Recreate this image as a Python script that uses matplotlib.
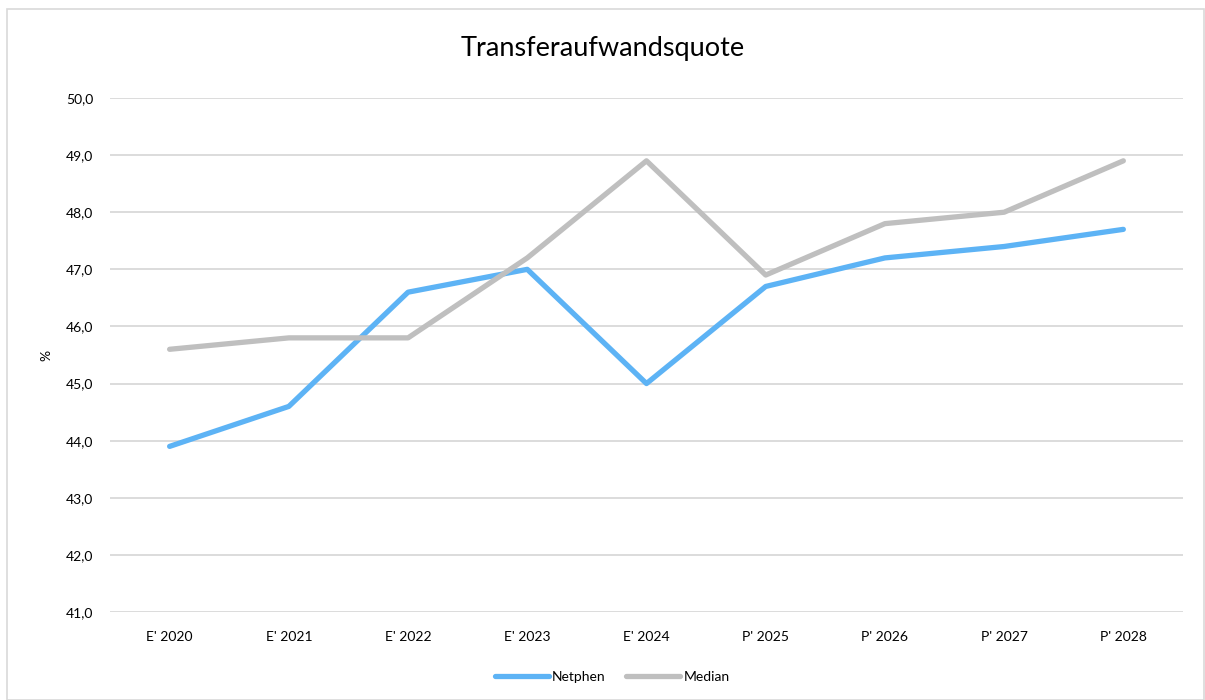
import matplotlib
matplotlib.use('Agg')
import matplotlib.pyplot as plt
from matplotlib.patches import Rectangle
from matplotlib.ticker import FuncFormatter

plt.rcParams['font.family'] = ['Lato', 'DejaVu Sans']

years = ["E' 2020", "E' 2021", "E' 2022", "E' 2023", "E' 2024",
         "P' 2025", "P' 2026", "P' 2027", "P' 2028"]
netphen = [43.9, 44.6, 46.6, 47.0, 45.0, 46.7, 47.2, 47.4, 47.7]
median = [45.6, 45.8, 45.8, 47.2, 48.9, 46.9, 47.8, 48.0, 48.9]

fig = plt.figure(figsize=(12.05, 7.0), dpi=100)
ax = fig.add_axes([0.0913, 0.1257, 0.8904, 0.7343])

x = range(len(years))
ax.plot(x, netphen, color='#5DB3F5', lw=3.8, solid_capstyle='round', label='Netphen', zorder=3)
ax.plot(x, median, color='#BFBFBF', lw=3.8, solid_capstyle='round', label='Median', zorder=3)

ax.set_xlim(-0.5, len(years) - 0.5)
ax.set_ylim(41, 50)
ax.set_yticks(range(41, 51))
ax.yaxis.set_major_formatter(FuncFormatter(lambda v, p: f"{v:.1f}".replace('.', ',')))
ax.set_xticks(list(x))
ax.set_xticklabels(years)
ax.grid(axis='y', color='#D9D9D9', lw=1.3)
ax.set_axisbelow(True)
for s in ax.spines.values():
    s.set_visible(False)
ax.tick_params(length=0, labelsize=10, colors='#000000', pad=14)
ax.tick_params(axis='y', pad=12)
ax.set_ylabel('%', fontsize=10, labelpad=10)

fig.suptitle('Transferaufwandsquote', fontsize=19.5, y=0.931, va='center')

leg = fig.legend(loc='center', bbox_to_anchor=(0.508, 0.033), ncol=2, frameon=False,
                 fontsize=10, handlelength=3.9, handletextpad=0.2, columnspacing=1.5)

fig.patches.append(Rectangle((7 / 1205, 0), 1 - 8 / 1205, 1 - 9 / 700, transform=fig.transFigure,
                             fill=False, edgecolor='#D9D9D9', lw=1.2))

fig.savefig('out.png', dpi=100)
